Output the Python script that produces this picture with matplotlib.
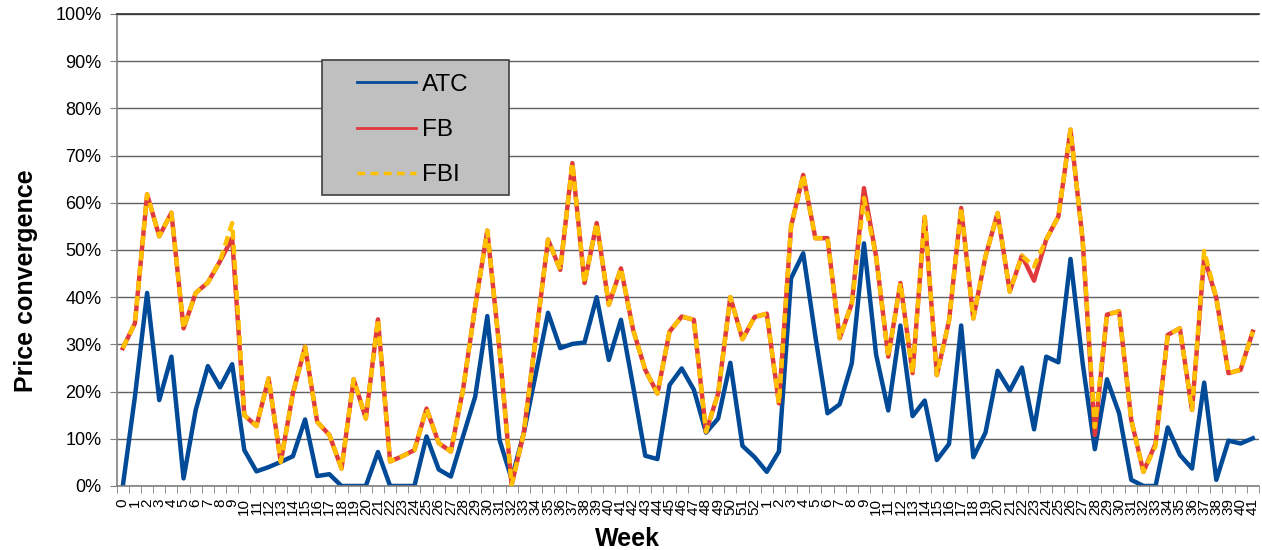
import numpy as np
import matplotlib.pyplot as plt
from matplotlib.lines import Line2D
from matplotlib.patches import Rectangle

plt.rcParams['font.family'] = ['Liberation Sans', 'DejaVu Sans']

# Week labels: 0..52 of year one, then 1..41 of year two
weeks = [str(w) for w in range(0, 53)] + [str(w) for w in range(1, 42)]

# Price convergence (%)
atc = [0, 19, 40.9, 18.2, 27.4, 1.6, 16.1, 25.4, 20.9, 25.8,
       7.6, 3.1, 4.0, 5.1, 6.3, 14.1, 2.1, 2.5, 0, 0,
       0, 7.2, 0, 0, 0, 10.5, 3.5, 2.0, 10.5, 18.9,
       36.0, 9.8, 1.5, 11.2, 23.9, 36.7, 29.2, 30.1, 30.4, 40.0,
       26.7, 35.2, 21.1, 6.4, 5.7, 21.4, 24.9, 20.4, 11.3, 14.3,
       26.1, 8.5, 6.1, 3.0, 7.3, 44.0, 49.3, 31.7, 15.4, 17.3,
       26.0, 51.4, 27.8, 16.0, 34.0, 14.8, 18.1, 5.5, 8.9, 34.0,
       6.1, 11.3, 24.4, 20.2, 25.1, 12.0, 27.4, 26.2, 48.1, 26.0,
       7.8, 22.6, 15.4, 1.3, 0, 0, 12.4, 6.6, 3.7, 21.9,
       1.3, 9.6, 9.0, 10.1]

fb = [29.2, 34.5, 61.8, 52.9, 57.9, 33.4, 40.9, 43.1, 47.6, 52.5,
      15.0, 12.7, 22.8, 5.1, 19.6, 29.5, 13.6, 10.8, 3.7, 22.6,
      14.3, 35.3, 5.2, 6.3, 7.6, 16.4, 9.1, 7.3, 20.4, 38.0,
      54.1, 29.0, 0.2, 11.2, 31.7, 52.2, 45.8, 68.4, 43.0, 55.7,
      38.4, 46.1, 33.1, 24.6, 19.6, 32.7, 35.9, 35.2, 11.5, 19.6,
      40.0, 31.1, 35.8, 36.5, 17.5, 55.0, 65.9, 52.5, 52.5, 31.3,
      38.7, 63.1, 48.6, 27.4, 43.0, 23.9, 57.0, 23.5, 35.0, 58.9,
      35.5, 48.6, 57.8, 41.2, 48.8, 43.5, 52.2, 57.1, 75.5, 52.0,
      10.8, 36.3, 37.0, 14.0, 3.0, 9.0, 32.0, 33.4, 16.1, 48.5,
      39.8, 23.9, 24.6, 32.7]

fbi = [29.2, 34.5, 61.8, 52.9, 57.9, 33.4, 40.9, 43.1, 47.6, 55.7,
       15.0, 12.7, 22.8, 5.1, 19.6, 29.5, 13.6, 10.8, 3.7, 22.6,
       14.3, 35.3, 5.2, 6.3, 7.6, 16.4, 9.1, 7.3, 20.4, 38.0,
       54.1, 29.0, 0.2, 11.2, 31.7, 52.2, 45.8, 68.4, 43.0, 55.7,
       38.4, 46.1, 33.1, 24.6, 19.6, 32.7, 35.9, 35.2, 11.5, 19.6,
       40.0, 31.1, 35.8, 36.5, 17.5, 55.0, 65.9, 52.5, 52.5, 31.3,
       38.7, 61.0, 48.6, 27.4, 43.0, 23.9, 57.0, 23.5, 35.0, 58.9,
       35.5, 48.6, 57.8, 41.2, 48.8, 46.5, 52.2, 57.1, 75.5, 52.0,
       12.5, 36.3, 37.0, 14.0, 3.0, 8.5, 32.0, 33.4, 16.1, 49.8,
       39.8, 23.9, 24.6, 32.7]

x = np.arange(len(weeks))

fig = plt.figure(figsize=(12.62, 5.5), dpi=100)
ax = fig.add_axes([0.0925, 0.1164, 0.905, 0.8582])

grid_col = '#606060'
ax.set_yticks(np.arange(0, 101, 10))
ax.yaxis.grid(True, color=grid_col, lw=1.0, zorder=0)
ax.set_axisbelow(True)

ax.plot(x, atc, color='#004A98', lw=3.2, label='ATC', zorder=2)
ax.plot(x, fb, color='#E0393E', lw=3.2, label='FB', zorder=3)
ax.plot(x, fbi, color='#FFC000', lw=3.2, dashes=(2.2, 1.2), label='FBI', zorder=4)

ax.set_xlim(-0.5, len(weeks) - 0.5)
ax.set_ylim(0, 100)
ax.set_yticklabels([f"{v}%" for v in range(0, 101, 10)], fontsize=13)

ax.set_xticks(x)
ax.set_xticklabels(weeks, rotation=90, fontsize=11, va='top', ha='center')
ax.set_xticks(np.arange(-0.5, len(weeks), 1), minor=True)
ax.tick_params(axis='x', which='major', length=0, pad=9)
ax.tick_params(axis='x', which='minor', length=5, color='#808080', direction='out')
ax.tick_params(axis='y', length=5, color='#808080', direction='out', pad=6)

ax.spines['right'].set_visible(False)
ax.spines['top'].set_color('#303030')
ax.spines['top'].set_linewidth(1.2)
for side in ['left', 'bottom']:
    ax.spines[side].set_color('#808080')
    ax.spines[side].set_linewidth(1.2)

ax.set_xlabel('Week', fontsize=18, fontweight='bold', va='top')
ax.xaxis.set_label_coords(0.447, -0.087)
ax.set_ylabel('Price convergence', fontsize=18, fontweight='bold')
ax.yaxis.set_label_coords(-0.069, 0.434)

# Legend box
ax.add_patch(Rectangle((0.18, 0.6165), 0.1638, 0.286, transform=ax.transAxes,
                       facecolor='#C0C0C0', edgecolor='#404040', lw=1.2, zorder=6))
handles = [
    Line2D([], [], color='#004A98', lw=2),
    Line2D([], [], color='#E0393E', lw=2),
    Line2D([], [], color='#FFC000', lw=2.5, dashes=(2.2, 1.6)),
]
leg = ax.legend(handles, ['ATC', 'FB', 'FBI'], loc='upper left',
                bbox_to_anchor=(0.2106, 0.873), frameon=False, fontsize=17.5,
                borderpad=0, borderaxespad=0, handlelength=2.4,
                handletextpad=0.25, labelspacing=0.95)
leg.set_zorder(7)

fig.savefig('out.png', dpi=100)
